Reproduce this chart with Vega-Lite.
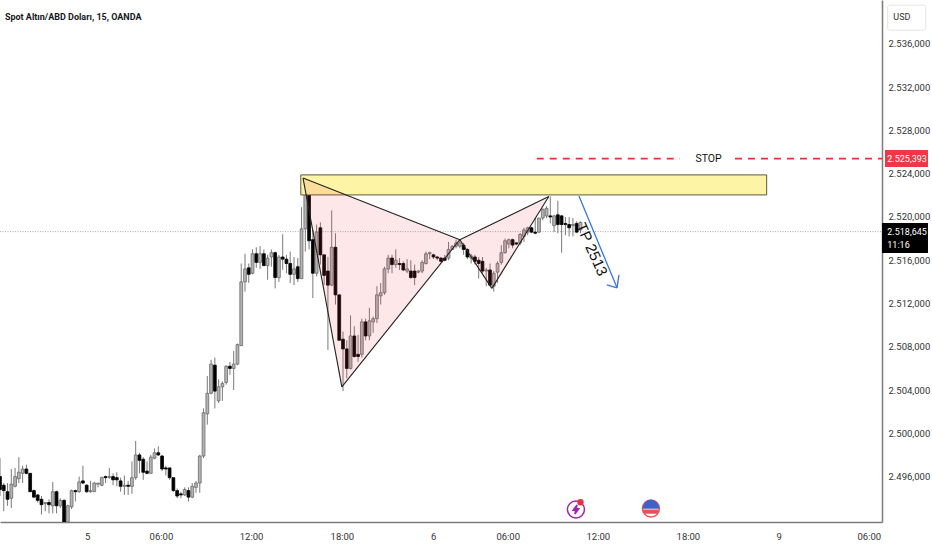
{
  "$schema": "https://vega.github.io/schema/vega-lite/v6.json",
  "width": 882,
  "height": 522,
  "autosize": "none",
  "padding": {"left": 0, "top": 0, "right": 50, "bottom": 28},
  "background": "#ffffff",
  "config": {"view": {"stroke": null}},
  "datasets": {
    "candles": [
      {"b":0,"o":2496.0,"h":2497.7,"l":2494.2,"c":2494.8},
      {"b":1,"o":2495.2,"h":2495.4,"l":2492.8,"c":2494.7},
      {"b":2,"o":2494.6,"h":2495.4,"l":2493.3,"c":2493.9},
      {"b":3,"o":2494.0,"h":2496.7,"l":2493.1,"c":2495.3},
      {"b":4,"o":2495.1,"h":2496.8,"l":2495.0,"c":2496.0},
      {"b":5,"o":2495.8,"h":2497.8,"l":2495.4,"c":2496.4},
      {"b":6,"o":2496.3,"h":2497.0,"l":2495.4,"c":2496.7},
      {"b":7,"o":2496.7,"h":2497.1,"l":2496.2,"c":2496.3},
      {"b":8,"o":2496.3,"h":2496.3,"l":2494.6,"c":2494.6},
      {"b":9,"o":2494.7,"h":2494.8,"l":2494.0,"c":2494.1},
      {"b":10,"o":2494.3,"h":2494.4,"l":2493.6,"c":2493.8},
      {"b":11,"o":2493.9,"h":2494.2,"l":2492.5,"c":2493.4},
      {"b":12,"o":2493.5,"h":2493.6,"l":2492.8,"c":2493.6},
      {"b":13,"o":2493.6,"h":2493.9,"l":2492.6,"c":2493.4},
      {"b":14,"o":2493.3,"h":2495.5,"l":2492.6,"c":2494.6},
      {"b":15,"o":2494.6,"h":2494.7,"l":2492.6,"c":2493.3},
      {"b":16,"o":2493.3,"h":2494.0,"l":2493.1,"c":2493.8},
      {"b":17,"o":2493.8,"h":2493.9,"l":2491.7,"c":2491.7},
      {"b":18,"o":2491.8,"h":2493.4,"l":2491.7,"c":2493.3},
      {"b":19,"o":2493.2,"h":2494.8,"l":2493.0,"c":2494.7},
      {"b":20,"o":2494.7,"h":2494.8,"l":2493.7,"c":2494.6},
      {"b":21,"o":2494.6,"h":2496.0,"l":2494.5,"c":2495.5},
      {"b":22,"o":2495.6,"h":2497.0,"l":2495.3,"c":2495.4},
      {"b":23,"o":2495.2,"h":2495.3,"l":2494.5,"c":2494.6},
      {"b":24,"o":2494.6,"h":2495.6,"l":2494.5,"c":2494.7},
      {"b":25,"o":2494.6,"h":2495.5,"l":2494.6,"c":2495.4},
      {"b":26,"o":2495.3,"h":2495.4,"l":2495.0,"c":2495.4},
      {"b":27,"o":2495.2,"h":2496.0,"l":2495.1,"c":2495.9},
      {"b":28,"o":2496.0,"h":2496.1,"l":2495.4,"c":2495.9},
      {"b":29,"o":2495.9,"h":2496.8,"l":2495.8,"c":2496.0},
      {"b":30,"o":2496.0,"h":2496.3,"l":2495.2,"c":2495.7},
      {"b":31,"o":2495.9,"h":2496.4,"l":2495.1,"c":2495.7},
      {"b":32,"o":2495.6,"h":2495.9,"l":2494.6,"c":2495.1},
      {"b":33,"o":2495.1,"h":2496.1,"l":2494.3,"c":2495.2},
      {"b":34,"o":2495.2,"h":2495.6,"l":2494.3,"c":2495.1},
      {"b":35,"o":2495.1,"h":2497.4,"l":2494.4,"c":2495.9},
      {"b":36,"o":2495.9,"h":2499.3,"l":2495.7,"c":2498.0},
      {"b":37,"o":2498.0,"h":2498.2,"l":2496.3,"c":2497.5},
      {"b":38,"o":2497.6,"h":2497.8,"l":2495.7,"c":2496.4},
      {"b":39,"o":2496.5,"h":2497.4,"l":2496.2,"c":2496.3},
      {"b":40,"o":2496.3,"h":2498.0,"l":2496.3,"c":2497.8},
      {"b":41,"o":2497.7,"h":2498.6,"l":2497.6,"c":2498.2},
      {"b":42,"o":2498.2,"h":2498.8,"l":2497.9,"c":2498.0},
      {"b":43,"o":2497.9,"h":2498.0,"l":2496.5,"c":2496.7},
      {"b":44,"o":2496.8,"h":2497.0,"l":2496.1,"c":2496.7},
      {"b":45,"o":2496.8,"h":2496.8,"l":2495.7,"c":2495.9},
      {"b":46,"o":2495.9,"h":2495.9,"l":2494.6,"c":2494.7},
      {"b":47,"o":2494.7,"h":2494.9,"l":2494.0,"c":2494.2},
      {"b":48,"o":2494.4,"h":2494.6,"l":2494.0,"c":2494.3},
      {"b":49,"o":2494.3,"h":2495.0,"l":2494.2,"c":2494.8},
      {"b":50,"o":2494.7,"h":2495.0,"l":2493.7,"c":2494.1},
      {"b":51,"o":2494.1,"h":2495.4,"l":2494.0,"c":2495.1},
      {"b":52,"o":2495.0,"h":2495.6,"l":2494.5,"c":2495.4},
      {"b":53,"o":2495.4,"h":2498.0,"l":2494.5,"c":2497.9},
      {"b":54,"o":2497.9,"h":2502.3,"l":2497.7,"c":2501.9},
      {"b":55,"o":2501.8,"h":2505.3,"l":2500.8,"c":2503.7},
      {"b":56,"o":2503.7,"h":2506.8,"l":2503.6,"c":2506.4},
      {"b":57,"o":2506.3,"h":2507.0,"l":2502.3,"c":2503.9},
      {"b":58,"o":2503.0,"h":2505.0,"l":2502.8,"c":2504.3},
      {"b":59,"o":2504.3,"h":2504.8,"l":2503.0,"c":2504.6},
      {"b":60,"o":2504.7,"h":2506.3,"l":2504.5,"c":2506.2},
      {"b":61,"o":2506.2,"h":2506.6,"l":2505.4,"c":2506.0},
      {"b":62,"o":2506.0,"h":2507.6,"l":2504.0,"c":2506.4},
      {"b":63,"o":2506.4,"h":2508.3,"l":2506.3,"c":2508.2},
      {"b":64,"o":2508.1,"h":2515.7,"l":2508.1,"c":2514.0},
      {"b":65,"o":2514.0,"h":2516.6,"l":2513.1,"c":2515.2},
      {"b":66,"o":2515.3,"h":2515.7,"l":2513.9,"c":2514.7},
      {"b":67,"o":2514.8,"h":2517.0,"l":2514.7,"c":2516.6},
      {"b":68,"o":2516.6,"h":2517.2,"l":2515.3,"c":2515.8},
      {"b":69,"o":2515.8,"h":2517.3,"l":2515.2,"c":2516.6},
      {"b":70,"o":2516.6,"h":2517.0,"l":2515.5,"c":2515.5},
      {"b":71,"o":2515.5,"h":2516.5,"l":2514.2,"c":2516.2},
      {"b":72,"o":2516.3,"h":2517.0,"l":2515.4,"c":2516.7},
      {"b":73,"o":2516.7,"h":2516.8,"l":2513.4,"c":2514.4},
      {"b":74,"o":2514.4,"h":2516.5,"l":2514.0,"c":2516.3},
      {"b":75,"o":2516.3,"h":2518.4,"l":2515.1,"c":2516.1},
      {"b":76,"o":2516.1,"h":2516.5,"l":2514.8,"c":2515.7},
      {"b":77,"o":2515.7,"h":2516.8,"l":2513.9,"c":2514.7},
      {"b":78,"o":2514.7,"h":2516.3,"l":2513.7,"c":2515.2},
      {"b":79,"o":2515.4,"h":2516.2,"l":2514.0,"c":2514.3},
      {"b":80,"o":2514.3,"h":2520.9,"l":2514.3,"c":2518.9},
      {"b":81,"o":2518.9,"h":2523.4,"l":2516.8,"c":2522.1},
      {"b":82,"o":2522.1,"h":2523.5,"l":2517.0,"c":2517.8},
      {"b":83,"o":2517.9,"h":2518.8,"l":2512.5,"c":2514.8},
      {"b":84,"o":2514.8,"h":2519.3,"l":2514.5,"c":2518.6},
      {"b":85,"o":2519.0,"h":2519.5,"l":2515.6,"c":2516.5},
      {"b":86,"o":2516.5,"h":2516.5,"l":2513.7,"c":2514.6},
      {"b":87,"o":2515.0,"h":2516.3,"l":2507.7,"c":2513.7},
      {"b":88,"o":2513.7,"h":2520.6,"l":2513.6,"c":2517.2},
      {"b":89,"o":2517.2,"h":2518.5,"l":2511.9,"c":2512.8},
      {"b":90,"o":2512.8,"h":2512.8,"l":2508.6,"c":2508.6},
      {"b":91,"o":2508.7,"h":2509.4,"l":2503.9,"c":2507.8},
      {"b":92,"o":2507.8,"h":2508.6,"l":2505.1,"c":2506.0},
      {"b":93,"o":2506.0,"h":2510.9,"l":2505.9,"c":2509.0},
      {"b":94,"o":2509.0,"h":2509.9,"l":2507.0,"c":2507.1},
      {"b":95,"o":2507.3,"h":2509.1,"l":2506.6,"c":2507.1},
      {"b":96,"o":2507.3,"h":2510.6,"l":2507.0,"c":2510.3},
      {"b":97,"o":2510.3,"h":2510.6,"l":2508.6,"c":2509.0},
      {"b":98,"o":2509.0,"h":2511.6,"l":2508.6,"c":2510.4},
      {"b":99,"o":2510.3,"h":2510.8,"l":2509.3,"c":2510.6},
      {"b":100,"o":2510.6,"h":2513.6,"l":2510.2,"c":2512.8},
      {"b":101,"o":2512.7,"h":2513.9,"l":2511.9,"c":2513.0},
      {"b":102,"o":2513.0,"h":2515.4,"l":2512.8,"c":2515.2},
      {"b":103,"o":2515.2,"h":2516.5,"l":2514.8,"c":2516.2},
      {"b":104,"o":2516.2,"h":2516.5,"l":2514.8,"c":2515.6},
      {"b":105,"o":2515.6,"h":2517.0,"l":2515.3,"c":2516.0},
      {"b":106,"o":2515.7,"h":2516.2,"l":2515.1,"c":2515.6},
      {"b":107,"o":2515.7,"h":2515.9,"l":2515.0,"c":2515.1},
      {"b":108,"o":2515.0,"h":2516.1,"l":2514.8,"c":2515.2},
      {"b":109,"o":2515.0,"h":2516.0,"l":2514.3,"c":2514.4},
      {"b":110,"o":2515.0,"h":2515.6,"l":2513.7,"c":2514.4},
      {"b":111,"o":2514.9,"h":2515.1,"l":2514.8,"c":2515.0},
      {"b":112,"o":2515.0,"h":2516.0,"l":2514.8,"c":2515.8},
      {"b":113,"o":2515.7,"h":2516.8,"l":2515.6,"c":2516.6},
      {"b":114,"o":2516.6,"h":2516.8,"l":2516.1,"c":2516.7},
      {"b":115,"o":2516.5,"h":2516.6,"l":2516.1,"c":2516.3},
      {"b":116,"o":2516.3,"h":2516.4,"l":2516.0,"c":2516.2},
      {"b":117,"o":2516.2,"h":2516.3,"l":2515.8,"c":2515.9},
      {"b":118,"o":2516.2,"h":2516.5,"l":2515.9,"c":2516.0},
      {"b":119,"o":2516.2,"h":2517.7,"l":2516.0,"c":2517.0},
      {"b":120,"o":2517.0,"h":2517.4,"l":2517.0,"c":2517.3},
      {"b":121,"o":2517.3,"h":2517.9,"l":2517.1,"c":2517.6},
      {"b":122,"o":2517.3,"h":2517.9,"l":2517.1,"c":2517.6},
      {"b":123,"o":2517.4,"h":2517.6,"l":2516.5,"c":2517.0},
      {"b":124,"o":2517.0,"h":2517.1,"l":2516.1,"c":2516.3},
      {"b":125,"o":2516.2,"h":2516.6,"l":2515.7,"c":2516.4},
      {"b":126,"o":2516.3,"h":2516.5,"l":2515.6,"c":2515.9},
      {"b":127,"o":2516.0,"h":2516.3,"l":2514.3,"c":2515.7},
      {"b":128,"o":2515.9,"h":2516.3,"l":2514.8,"c":2515.0},
      {"b":129,"o":2515.0,"h":2515.3,"l":2513.6,"c":2515.1},
      {"b":130,"o":2515.1,"h":2515.7,"l":2513.6,"c":2513.7},
      {"b":131,"o":2513.6,"h":2515.0,"l":2513.1,"c":2514.8},
      {"b":132,"o":2514.9,"h":2515.9,"l":2513.9,"c":2515.7},
      {"b":133,"o":2515.8,"h":2517.4,"l":2515.6,"c":2516.7},
      {"b":134,"o":2516.7,"h":2518.0,"l":2516.6,"c":2517.8},
      {"b":135,"o":2517.5,"h":2518.0,"l":2517.1,"c":2517.9},
      {"b":136,"o":2517.9,"h":2518.0,"l":2517.1,"c":2517.4},
      {"b":137,"o":2517.6,"h":2517.7,"l":2517.4,"c":2517.5},
      {"b":138,"o":2517.6,"h":2518.5,"l":2517.4,"c":2518.4},
      {"b":139,"o":2518.2,"h":2519.0,"l":2517.7,"c":2518.8},
      {"b":140,"o":2518.6,"h":2519.1,"l":2518.3,"c":2519.0},
      {"b":141,"o":2519.0,"h":2519.1,"l":2518.5,"c":2518.6},
      {"b":142,"o":2518.6,"h":2519.9,"l":2518.4,"c":2518.5},
      {"b":143,"o":2518.6,"h":2519.9,"l":2518.5,"c":2519.9},
      {"b":144,"o":2519.9,"h":2520.8,"l":2519.7,"c":2520.7},
      {"b":145,"o":2520.1,"h":2521.0,"l":2519.9,"c":2520.8},
      {"b":146,"o":2520.1,"h":2521.9,"l":2519.4,"c":2520.0},
      {"b":147,"o":2519.2,"h":2520.2,"l":2518.6,"c":2520.1},
      {"b":148,"o":2520.2,"h":2521.5,"l":2518.5,"c":2519.3},
      {"b":149,"o":2520.1,"h":2520.2,"l":2516.7,"c":2519.3},
      {"b":150,"o":2519.4,"h":2520.0,"l":2518.3,"c":2519.3},
      {"b":151,"o":2519.3,"h":2520.0,"l":2518.2,"c":2519.0},
      {"b":152,"o":2519.2,"h":2519.9,"l":2518.2,"c":2519.3},
      {"b":153,"o":2519.4,"h":2519.6,"l":2518.5,"c":2518.6},
      {"b":154,"o":2518.8,"h":2519.6,"l":2518.5,"c":2519.5}
    ],
    "triangles": [
      {"shape":"a","b":80.4,"top":2523.6,"bot":2523.6},
      {"shape":"a","b":90.7,"top":2522.19,"bot":2504.3},
      {"shape":"a","b":122,"top":2517.9,"bot":2517.9},
      {"shape":"b","b":122,"top":2517.9,"bot":2517.9},
      {"shape":"b","b":130.5,"top":2519.34,"bot":2513.4},
      {"shape":"b","b":145.6,"top":2521.9,"bot":2521.9}
    ],
    "edges": [
      {"b":80.4,"p":2523.6,"b2":90.7,"p2":2504.3},
      {"b":90.7,"p":2504.3,"b2":122,"p2":2517.9},
      {"b":80.4,"p":2523.6,"b2":122,"p2":2517.9},
      {"b":122,"p":2517.9,"b2":130.5,"p2":2513.4},
      {"b":130.5,"p":2513.4,"b2":145.6,"p2":2521.9},
      {"b":122,"p":2517.9,"b2":145.6,"p2":2521.9}
    ],
    "arrow": [
      {"b":153.6,"p":2521.95,"b2":163.7,"p2":2513.45},
      {"b":161.0,"p":2513.73,"b2":163.7,"p2":2513.45},
      {"b":164.2,"p":2514.65,"b2":163.7,"p2":2513.45}
    ],
    "stop": [
      {"b":142.4,"p":2525.393,"b2":180.4,"p2":2525.393},
      {"b":195,"p":2525.393,"b2":234,"p2":2525.393}
    ]
  },
  "layer": [
    {
      "data": {"values": [{"p": 2518.645, "b": 0, "b2": 234}]},
      "mark": {"type": "rule", "color": "#a8a8a8", "strokeDash": [1, 1.5], "strokeWidth": 1},
      "encoding": {
        "x": {
          "field": "b",
          "type": "quantitative",
          "scale": {"domain": [0, 234], "nice": false, "zero": false, "padding": 0},
          "axis": {
            "title": null,
            "grid": false,
            "ticks": false,
            "domainColor": "#7c7c7c",
            "domainWidth": 1.5,
            "values": [23.1, 42.7, 66.6, 90.7, 114.9, 134.7, 158.6, 182.5, 206.6, 230.5],
            "labelExpr": "{'23.1':'5','42.7':'06:00','66.6':'12:00','90.7':'18:00','114.9':'6','134.7':'06:00','158.6':'12:00','182.5':'18:00','206.6':'9','230.5':'06:00'}[datum.value]",
            "labelFont": "Roboto",
            "labelFontSize": 9.5,
            "labelColor": "#333333",
            "labelPadding": 9,
            "labelFlush": false,
            "labelOverlap": false
          }
        },
        "x2": {"field": "b2"},
        "y": {
          "field": "p",
          "type": "quantitative",
          "scale": {"domain": [2491.8, 2540.06], "nice": false, "zero": false},
          "axis": {
            "title": null,
            "orient": "right",
            "grid": false,
            "ticks": false,
            "domainColor": "#7c7c7c",
            "domainWidth": 1.5,
            "values": [2496, 2500, 2504, 2508, 2512, 2516, 2520, 2524, 2528, 2532, 2536],
            "labelExpr": "format(floor(datum.value/1000),'d')+'.'+format(datum.value%1000,'03d')+',000'",
            "labelFont": "Roboto",
            "labelFontSize": 9.5,
            "labelColor": "#333333",
            "labelPadding": 6,
            "labelFlush": false,
            "labelOverlap": false
          }
        }
      }
    },
    {
      "data": {"name": "candles"},
      "mark": {"type": "rule", "color": "#6a6a6a", "strokeWidth": 0.9, "clip": true},
      "encoding": {
        "x": {"field": "b", "type": "quantitative"},
        "y": {"field": "h", "type": "quantitative"},
        "y2": {"field": "l"}
      }
    },
    {
      "data": {"name": "candles"},
      "mark": {"type": "bar", "size": 2.8, "orient": "vertical", "strokeWidth": 0.8, "clip": true},
      "encoding": {
        "x": {"field": "b", "type": "quantitative"},
        "y": {"field": "o", "type": "quantitative"},
        "y2": {"field": "c"},
        "fill": {"condition": {"test": "datum.c >= datum.o", "value": "#b4b4b4"}, "value": "#000000"},
        "stroke": {"condition": {"test": "datum.c >= datum.o", "value": "#6a6a6a"}, "value": "#000000"}
      }
    },
    {
      "data": {"values": [{"b": 79.8, "b2": 203.4, "p": 2523.89, "p2": 2522.04}]},
      "mark": {"type": "rect", "fill": "#fdf4a6", "stroke": "#5c5a3a", "strokeWidth": 1},
      "encoding": {
        "x": {"field": "b", "type": "quantitative"},
        "x2": {"field": "b2"},
        "y": {"field": "p", "type": "quantitative"},
        "y2": {"field": "p2"}
      }
    },
    {
      "data": {"name": "triangles"},
      "mark": {"type": "area", "color": "#f23645", "opacity": 0.12, "orient": "vertical"},
      "encoding": {
        "x": {"field": "b", "type": "quantitative"},
        "y": {"field": "top", "type": "quantitative"},
        "y2": {"field": "bot"},
        "detail": {"field": "shape"}
      }
    },
    {
      "data": {"name": "edges"},
      "mark": {"type": "rule", "color": "#222222", "strokeWidth": 1.1},
      "encoding": {
        "x": {"field": "b", "type": "quantitative"},
        "x2": {"field": "b2"},
        "y": {"field": "p", "type": "quantitative"},
        "y2": {"field": "p2"}
      }
    },
    {
      "data": {"name": "arrow"},
      "mark": {"type": "rule", "color": "#3a74e0", "strokeWidth": 1.3},
      "encoding": {
        "x": {"field": "b", "type": "quantitative"},
        "x2": {"field": "b2"},
        "y": {"field": "p", "type": "quantitative"},
        "y2": {"field": "p2"}
      }
    },
    {
      "data": {"name": "stop"},
      "mark": {"type": "rule", "color": "#e8313f", "strokeWidth": 1.8, "strokeDash": [7, 6]},
      "encoding": {
        "x": {"field": "b", "type": "quantitative"},
        "x2": {"field": "b2"},
        "y": {"field": "p", "type": "quantitative"},
        "y2": {"field": "p2"}
      }
    },
    {
      "data": {"values": [
        {"b": 234.8, "b2": 246.2, "p": 2526.19, "p2": 2524.62, "c": "#f23645"},
        {"b": 234, "b2": 246.2, "p": 2519.45, "p2": 2516.68, "c": "#000000"}
      ]},
      "mark": {"type": "rect"},
      "encoding": {
        "x": {"field": "b", "type": "quantitative"},
        "x2": {"field": "b2"},
        "y": {"field": "p", "type": "quantitative"},
        "y2": {"field": "p2"},
        "fill": {"field": "c", "type": "nominal", "scale": null}
      }
    },
    {
      "data": {"values": [{"b": 235.5, "b2": 245.6, "p": 2539.58, "p2": 2537.27}]},
      "mark": {"type": "rect", "fill": "#ffffff", "stroke": "#e4e4e4", "cornerRadius": 2},
      "encoding": {
        "x": {"field": "b", "type": "quantitative"},
        "x2": {"field": "b2"},
        "y": {"field": "p", "type": "quantitative"},
        "y2": {"field": "p2"}
      }
    },
    {
      "data": {"values": [
        {"b": 235.4, "p": 2525.39, "t": "2.525,393", "c": "#ffffff", "w": "bold"},
        {"b": 235.4, "p": 2518.65, "t": "2.518,645", "c": "#ffffff", "w": "bold"},
        {"b": 235.4, "p": 2517.4, "t": "11:16", "c": "#ffffff", "w": "normal"},
        {"b": 237, "p": 2538.5, "t": "USD", "c": "#333333", "w": "normal"}
      ]},
      "mark": {"type": "text", "align": "left", "baseline": "middle", "font": "Roboto", "fontSize": 9},
      "encoding": {
        "x": {"field": "b", "type": "quantitative"},
        "y": {"field": "p", "type": "quantitative"},
        "text": {"field": "t"},
        "color": {"field": "c", "type": "nominal", "scale": null},
        "fontWeight": {"field": "w", "type": "nominal", "scale": null}
      }
    },
    {
      "data": {"values": [{"b": 1.3, "p": 2538.47, "t": "Spot Altın/ABD Doları, 15, OANDA"}]},
      "mark": {"type": "text", "align": "left", "baseline": "middle", "font": "Roboto", "fontSize": 9, "fontWeight": "bold", "color": "#131722"},
      "encoding": {
        "x": {"field": "b", "type": "quantitative"},
        "y": {"field": "p", "type": "quantitative"},
        "text": {"field": "t"}
      }
    },
    {
      "data": {"values": [{"b": 188, "p": 2525.393, "t": "STOP"}]},
      "mark": {"type": "text", "align": "center", "baseline": "middle", "font": "Roboto", "fontSize": 10.5, "color": "#111111"},
      "encoding": {
        "x": {"field": "b", "type": "quantitative"},
        "y": {"field": "p", "type": "quantitative"},
        "text": {"field": "t"}
      }
    },
    {
      "data": {"values": [{"b": 157, "p": 2517.0, "t": "TP 2513"}]},
      "mark": {"type": "text", "align": "center", "baseline": "middle", "font": "Liberation Sans", "fontSize": 15, "angle": 66, "color": "#111111"},
      "encoding": {
        "x": {"field": "b", "type": "quantitative"},
        "y": {"field": "p", "type": "quantitative"},
        "text": {"field": "t"}
      }
    },
    {
      "data": {"values": [
        {"b": 152.8, "p": 2492.95, "s": "circle", "z": 290, "f": "#ffffff", "st": "#9c27b0"},
        {"b": 172.7, "p": 2493.05, "s": "circle", "z": 290, "f": "#ffffff", "st": "#f0525c"},
        {"b": 172.7, "p": 2493.05, "s": "M-1 -0.05A1 1 0 0 1 1 -0.05Z", "z": 225, "f": "#3f62c8", "st": "#3f62c8"},
        {"b": 172.7, "p": 2493.05, "s": "M-0.95 0.25H0.95A1 1 0 0 1 0.75 0.6H-0.75A1 1 0 0 1 -0.95 0.25Z", "z": 225, "f": "#e8505b", "st": "#e8505b"},
        {"b": 152.8, "p": 2492.95, "s": "M0.15 -0.65L-0.4 0.1L-0.05 0.1L-0.15 0.65L0.4 -0.1L0.05 -0.1Z", "z": 200, "f": "#9c27b0", "st": "#9c27b0"},
        {"b": 154, "p": 2493.63, "s": "circle", "z": 24, "f": "#e8313f", "st": "#e8313f"}
      ]},
      "mark": {"type": "point", "filled": true, "strokeWidth": 1.5, "opacity": 1},
      "encoding": {
        "x": {"field": "b", "type": "quantitative"},
        "y": {"field": "p", "type": "quantitative"},
        "shape": {"field": "s", "type": "nominal", "scale": null},
        "size": {"field": "z", "type": "quantitative", "scale": null},
        "fill": {"field": "f", "type": "nominal", "scale": null},
        "stroke": {"field": "st", "type": "nominal", "scale": null}
      }
    }
  ]
}
